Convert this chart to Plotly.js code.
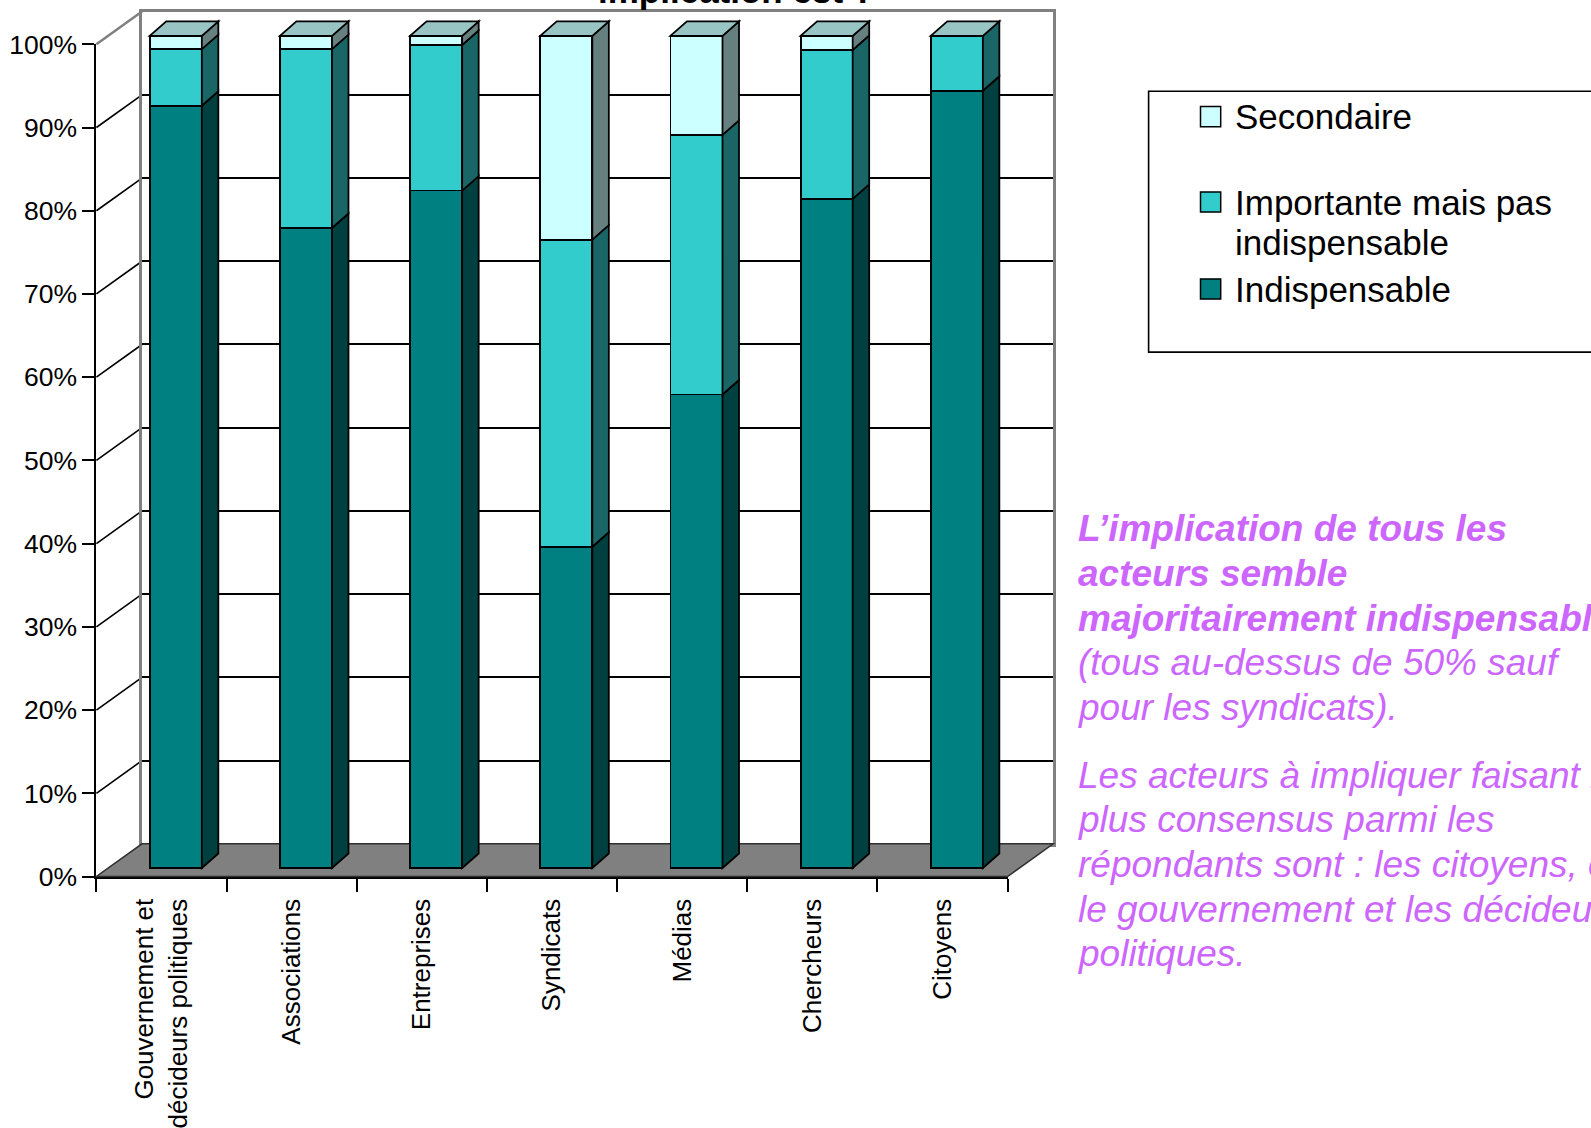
<!DOCTYPE html>
<html><head><meta charset="utf-8">
<script src="https://cdn.plot.ly/plotly-3.0.1.min.js"></script>
<style>html,body{margin:0;padding:0;background:#fff}#chart{width:1591px;height:1128px}</style>
</head><body><div id="chart"></div>
<script>
// ---------------- data ----------------
const categories = ["Gouvernement et<br>décideurs politiques", "Associations", "Entreprises", "Syndicats", "Médias", "Chercheurs", "Citoyens"];
const seriesNames = ["Indispensable", "Importante mais pas indispensable", "Secondaire"];
const indispensable = [91.6, 76.9, 81.4, 38.6, 56.9, 80.4, 93.4];
const importante    = [6.8, 21.5, 17.5, 36.9, 31.2, 17.9, 6.6];
const secondaire    = [1.6, 1.6, 1.1, 24.5, 11.9, 1.7, 0.0];
const yTickVals = [0, 10, 20, 30, 40, 50, 60, 70, 80, 90, 100];
const yTickText = ["0%", "10%", "20%", "30%", "40%", "50%", "60%", "70%", "80%", "90%", "100%"];
const legendLabels = ["Secondaire", "Importante mais pas<br>indispensable", "Indispensable"];
const titleText = "implication est ?";
const commentBold = ["L’implication de tous les", "acteurs semble", "majoritairement indispensable"];
const commentItalic1 = ["(tous au-dessus de 50% sauf", "pour les syndicats)."];
const commentItalic2 = ["Les acteurs à impliquer faisant le", "plus consensus parmi les", "répondants sont : les citoyens, et", "le gouvernement et les décideurs", "politiques."];

// ---------------- geometry / style ----------------
const W = 1591, H = 1128;
const FONT = "Liberation Sans, Arial, sans-serif";
const FX0 = 96.4, FX1 = 1007.6, FY0 = 876.5, FY100 = 44.3;
const N = categories.length;
const CW = (FX1 - FX0) / N;
const PY = (FY0 - FY100) / 100;
const WDX = 45.6, WDY = -32.7;   // front -> back wall
const BDX = 14.3, BDY = -8.5;    // front -> bar front plane
const SDX = 16.5, SDY = -14.5;   // bar depth
const BARW = 0.4;
const EDGE = 1.8;
const COLORS = {front: ["#008080", "#33CCCC", "#CCFFFF"], side: ["#004040", "#1A6666", "#668080"], top: "#99C4C4"};
const PURPLE = "#CC66FF";

const fx = x => x / W, fy = y => 1 - y / H;
function domX(ox, r) { return [fx(FX0 + ox + (r[0] + 0.5) * CW), fx(FX0 + ox + (r[1] + 0.5) * CW)]; }
function domY(oy, r) { return [fy(FY0 + oy - r[0] * PY), fy(FY0 + oy - r[1] * PY)]; }
const frontXR = [-0.5, N - 0.5];
const barXR = [-1.0, N + 0.2], barYR = [-5, 104];
// pixel -> bar-plane data
const bx = px => (px - (FX0 + BDX)) / CW - 0.5;
const by = py => ((FY0 + BDY) - py) / PY;

const idx = categories.map((c, i) => i);
const seriesVals = [indispensable, importante, secondaire];

// empty helper traces so that the wall and front-axis subplots exist
const traces = [
  {type: "scatter", x: idx, y: idx.map(() => null), xaxis: "x", yaxis: "y", showlegend: false, hoverinfo: "skip"},
  {type: "scatter", x: idx, y: idx.map(() => null), xaxis: "x2", yaxis: "y2", showlegend: false, hoverinfo: "skip"}
];
seriesVals.forEach((vals, s) => traces.push({
  type: "bar", name: seriesNames[s], x: idx, y: vals, width: BARW,
  xaxis: "x3", yaxis: "y3",
  marker: {color: COLORS.front[s], line: {color: "#000", width: EDGE}},
  hovertemplate: "%{y}%<extra>" + seriesNames[s] + "</extra>"
}));
traces.push({type: "scatter", x: idx, y: idx.map(() => null), xaxis: "x4", yaxis: "y2", showlegend: false, hoverinfo: "skip"});

const shapes = [];
// floor
const fl = [[FX0, FY0], [FX1, FY0], [FX1 + WDX, FY0 + WDY], [FX0 + WDX, FY0 + WDY]];
shapes.push({type: "path", xref: "x3", yref: "y3", layer: "below",
  path: "M" + fl.map(p => bx(p[0]) + "," + by(p[1])).join("L") + "Z",
  fillcolor: "#808080", line: {color: "#303030", width: 1.5}});
// left wall diagonals
yTickVals.forEach(v => {
  if (v === 0) return;
  const y0 = FY0 - v * PY;
  shapes.push({type: "line", xref: "paper", yref: "paper", layer: "below",
    x0: fx(FX0), y0: fy(y0), x1: fx(FX0 + WDX), y1: fy(y0 + WDY),
    line: {color: v === 100 ? "#808080" : "#000", width: v === 100 ? 2.5 : 1.6}});
});
// bar sides and tops
const sdx = SDX / CW, sdy = -SDY / PY;
idx.forEach(i => {
  let base = 0;
  seriesVals.forEach((vals, s) => {
    const v = vals[i];
    if (v > 0) {
      const t = base + v, xr = i + BARW / 2;
      shapes.push({type: "path", xref: "x3", yref: "y3", layer: "above",
        path: `M${xr},${base}L${xr + sdx},${base + sdy}L${xr + sdx},${t + sdy}L${xr},${t}Z`,
        fillcolor: COLORS.side[s], line: {color: "#000", width: EDGE}});
    }
    base += v;
  });
  const xl = i - BARW / 2, xr = i + BARW / 2;
  shapes.push({type: "path", xref: "x3", yref: "y3", layer: "above",
    path: `M${xl},${base}L${xr},${base}L${xr + sdx},${base + sdy}L${xl + sdx},${base + sdy}Z`,
    fillcolor: COLORS.top, line: {color: "#000", width: EDGE}});
});
// legend (manual)
shapes.push({type: "rect", xref: "paper", yref: "paper", layer: "above",
  x0: fx(1148.6), x1: fx(1640), y0: fy(91.3), y1: fy(352.1),
  fillcolor: "rgba(255,255,255,0)", line: {color: "#000", width: 1.6}});
const legendY = [116.7, 202, 289];
const legendColor = [COLORS.front[2], COLORS.front[1], COLORS.front[0]];
const annotations = [];
legendLabels.forEach((lab, k) => {
  const cy = legendY[k];
  shapes.push({type: "rect", xref: "paper", yref: "paper", layer: "above",
    x0: fx(1200.5), x1: fx(1220.7), y0: fy(cy - 10.1), y1: fy(cy + 10.1),
    fillcolor: legendColor[k], line: {color: "#000", width: 1.5}});
  lab.split("<br>").forEach((line, j) => {
    annotations.push({xref: "paper", yref: "paper", x: fx(1233), y: fy(cy + j * 40.5),
      xanchor: "left", yanchor: "middle", showarrow: false, text: line,
      font: {family: FONT, size: 35, color: "#000"}});
  });
});
// title (partially off-page at the top)
annotations.push({xref: "paper", yref: "paper", x: fx(736), y: fy(12), xanchor: "center", yanchor: "bottom",
  showarrow: false, text: "<b>" + titleText + "</b>", font: {family: FONT, size: 35, color: "#000"}});
// commentary
const cLines = [];
commentBold.forEach(t => cLines.push("<b><i>" + t + "</i></b>"));
commentItalic1.forEach(t => cLines.push("<i>" + t + "</i>"));
commentItalic2.forEach(t => cLines.push("<i>" + t + "</i>"));
const cY = [528.7, 573.3, 618, 662.6, 707.2, 775.2, 819.9, 864.5, 909.2, 953.8];
cLines.forEach((t, k) => annotations.push({xref: "paper", yref: "paper", x: fx(1075.6), y: fy(cY[k]),
  xanchor: "left", yanchor: "middle", showarrow: false, text: t,
  font: {family: FONT, size: 37, color: PURPLE}}));

const tickFont = {family: FONT, size: 26.5, color: "#000"};
const frontDomX = domX(0, frontXR);
const layout = {
  width: W, height: H, margin: {l: 0, r: 0, t: 0, b: 0, pad: 0},
  paper_bgcolor: "#fff", plot_bgcolor: "rgba(0,0,0,0)",
  showlegend: false, barmode: "stack", font: {family: FONT, color: "#000"},
  // back wall
  xaxis: {domain: domX(WDX, frontXR), range: frontXR, anchor: "y", showgrid: false, zeroline: false,
    showticklabels: false, ticks: "", showline: true, mirror: true, linecolor: "#808080", linewidth: 2.5, fixedrange: true},
  yaxis: {domain: domY(WDY, [0, 100]), range: [0, 100], anchor: "x", tickvals: yTickVals, showticklabels: false,
    ticks: "", showgrid: true, gridcolor: "#000", gridwidth: 1.6, zeroline: false,
    showline: true, mirror: true, linecolor: "#808080", linewidth: 2.5, fixedrange: true},
  // front axes
  xaxis2: {domain: frontDomX, range: frontXR, anchor: "y2", tickvals: idx.concat([N]).map(i => i - 0.5),
    ticktext: idx.concat([N]).map(() => ""), ticks: "outside", ticklen: 13, tickwidth: 2, tickcolor: "#000",
    showline: true, linecolor: "#000", linewidth: 2, showgrid: false, zeroline: false, fixedrange: true},
  yaxis2: {domain: domY(0, [0, 100]), range: [0, 100], anchor: "x2", tickvals: yTickVals, ticktext: yTickText,
    ticks: "outside", ticklen: 12, tickwidth: 2, tickcolor: "#000", showline: true, linecolor: "#000", linewidth: 2,
    showgrid: false, zeroline: false, tickfont: tickFont, fixedrange: true},
  xaxis4: {domain: frontDomX, anchor: "y2", range: frontXR, tickvals: idx, ticktext: categories, ticks: "",
    tickangle: -90, tickfont: {family: FONT, size: 26, color: "#000"}, ticklabelstandoff: 16,
    showline: false, showgrid: false, zeroline: false, fixedrange: true},
  // bar front plane
  xaxis3: {domain: domX(BDX, barXR), range: barXR, anchor: "y3", visible: false, fixedrange: true},
  yaxis3: {domain: domY(BDY, barYR), range: barYR, anchor: "x3", visible: false, fixedrange: true},
  shapes: shapes, annotations: annotations
};
Plotly.newPlot("chart", traces, layout, {displayModeBar: false, responsive: false});
</script></body></html>
